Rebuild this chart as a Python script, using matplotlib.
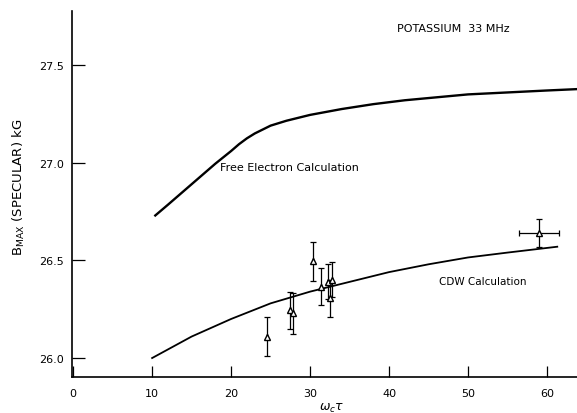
import numpy as np
import matplotlib.pyplot as plt

# free electron calculation curve
fe_x = [10.4, 12, 14, 16, 18, 20, 21, 22, 23, 24, 25, 27, 30, 34, 38, 42, 46, 50, 55, 60, 63.8]
fe_y = [26.73, 26.785, 26.855, 26.925, 26.995, 27.06, 27.095, 27.125, 27.15, 27.17, 27.19,
        27.215, 27.245, 27.275, 27.30, 27.32, 27.335, 27.35, 27.36, 27.37, 27.377]

# CDW calculation curve
cdw_x = [10.0, 15, 20, 25, 30, 35, 40, 45, 50, 55, 61.3]
cdw_y = [26.0, 26.11, 26.2, 26.28, 26.34, 26.39, 26.44, 26.48, 26.515, 26.54, 26.57]

# measured points
pt_x = [24.6, 27.5, 27.8, 30.4, 31.4, 32.3, 32.8, 32.5, 59.0]
pt_y = [26.11, 26.245, 26.23, 26.495, 26.365, 26.39, 26.40, 26.305, 26.64]
pt_yerr = [0.10, 0.095, 0.105, 0.10, 0.095, 0.09, 0.09, 0.095, 0.07]
pt_xerr = [0, 0, 0, 0, 0, 0, 0, 0, 2.5]

xticks = [0, 10, 20, 30, 40, 50, 60]
yticks = [26.0, 26.5, 27.0, 27.5]

plt.rcParams['font.family'] = ['DejaVu Sans']

fig = plt.figure(figsize=(5.77, 4.14), dpi=100)
ax = fig.add_axes([0.125, 0.087, 0.875, 0.884])

ax.plot(fe_x, fe_y, color="k", lw=1.7)
ax.plot(cdw_x, cdw_y, color="k", lw=1.3)
ax.errorbar(pt_x, pt_y, yerr=pt_yerr, xerr=pt_xerr, fmt="^", mfc="white", mec="k",
            ms=5, ecolor="k", elinewidth=0.9, capsize=2.5, capthick=0.9)

ax.set_xlim(-0.13, 63.8)
ax.set_ylim(25.903, 27.777)
ax.set_xticks(xticks)
ax.set_xticklabels([str(v) for v in xticks])
ax.set_yticks(yticks)
ax.set_yticklabels([f"{v:.1f}" for v in yticks])
ax.tick_params(direction="in", length=8, width=0.9, labelsize=8, pad=8)
ax.tick_params(axis="y", length=9, pad=6)

for s in ["top", "right"]:
    ax.spines[s].set_visible(False)
for s in ["left", "bottom"]:
    ax.spines[s].set_linewidth(1.2)

ax.set_xlabel(r"$\omega_c\tau$", fontsize=9)
ax.xaxis.set_label_coords(0.513, -0.065)
ax.set_ylabel(r"B$_{\mathrm{MAX}}$ (SPECULAR) kG", fontsize=9.5)
ax.yaxis.set_label_coords(-0.09, 0.52)

ax.text(41.0, 27.675, "POTASSIUM  33 MHz", fontsize=8)
ax.text(18.6, 26.965, "Free Electron Calculation", fontsize=8)
ax.text(46.3, 26.38, "CDW Calculation", fontsize=7.5)

fig.savefig("out.png", dpi=100)
